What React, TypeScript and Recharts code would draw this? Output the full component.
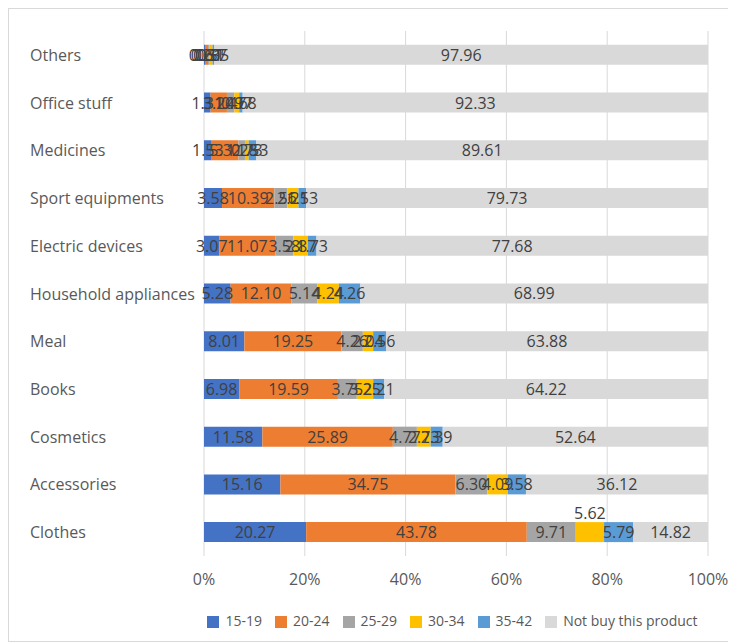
import { BarChart, Bar, XAxis, YAxis, CartesianGrid, Legend, LabelList } from 'recharts';

const products = [
  'Others',
  'Office stuff',
  'Medicines',
  'Sport equipments',
  'Electric devices',
  'Household appliances',
  'Meal',
  'Books',
  'Cosmetics',
  'Accessories',
  'Clothes',
];

const age15to19 = [0.2, 1.31, 1.53, 3.58, 3.07, 5.28, 8.01, 6.98, 11.58, 15.16, 20.27];
const age20to24 = [0.61, 3.24, 5.32, 10.39, 11.07, 12.1, 19.25, 19.59, 25.89, 34.75, 43.78];
const age25to29 = [0.31, 1.47, 1.28, 2.56, 3.58, 5.14, 4.26, 3.75, 4.77, 6.3, 9.71];
const age30to34 = [0.57, 0.97, 0.73, 2.21, 2.87, 4.24, 2.04, 3.25, 2.73, 4.09, 5.62];
const age35to42 = [0.35, 0.68, 1.53, 1.53, 1.73, 4.26, 2.56, 2.21, 2.39, 3.58, 5.79];
const notBuy = [97.96, 92.33, 89.61, 79.73, 77.68, 68.99, 63.88, 64.22, 52.64, 36.12, 14.82];

const xTicks = [0, 20, 40, 60, 80, 100];

const data = products.map((name, i) => ({
  name,
  a: age15to19[i],
  b: age20to24[i],
  c: age25to29[i],
  d: age30to34[i],
  e: age35to42[i],
  f: notBuy[i],
}));

const series = [
  { key: 'a', label: '15-19', color: '#4472C4' },
  { key: 'b', label: '20-24', color: '#ED7D31' },
  { key: 'c', label: '25-29', color: '#A5A5A5' },
  { key: 'd', label: '30-34', color: '#FFC000' },
  { key: 'e', label: '35-42', color: '#5B9BD5' },
  { key: 'f', label: 'Not buy this product', color: '#D9D9D9' },
];

const font = '"Open Sans", "Liberation Sans", sans-serif';

function CategoryTick({ y, payload }: any) {
  return (
    <text x={21} y={y} textAnchor="start" dominantBaseline="central" fill="#595959" fontSize={16} fontFamily={font}>
      {payload.value}
    </text>
  );
}

// Excel pushed the small yellow label of the last row above its bar
function makeLabel(key: string) {
  return (props: any) => {
    const { x, y, width, height, value, index } = props;
    const above = key === 'd' && index === products.length - 1;
    return (
      <text
        x={x + width / 2}
        y={above ? y - 9 : y + height / 2}
        textAnchor="middle"
        dominantBaseline="central"
        fill="#404040"
        fontSize={16}
        fontFamily={font}
      >
        {Number(value).toFixed(2)}
      </text>
    );
  };
}

export default function App() {
  return (
    <div style={{ width: 727, height: 632, border: '1px solid #D9D9D9', background: '#fff', fontFamily: font }}>
      <BarChart
        width={727}
        height={630}
        data={data}
        layout="vertical"
        barCategoryGap="29%"
        margin={{ top: 22, right: 28, left: 0, bottom: 9 }}
      >
        <CartesianGrid horizontal={false} stroke="#D9D9D9" />
        <XAxis
          type="number"
          domain={[0, 100]}
          ticks={xTicks}
          allowDataOverflow
          tickFormatter={(v: number) => `${v}%`}
          axisLine={false}
          tickLine={false}
          tick={{ fill: '#595959', fontSize: 16, fontFamily: font }}
          tickMargin={12}
          height={55}
        />
        <YAxis
          type="category"
          dataKey="name"
          width={195}
          axisLine={false}
          tickLine={false}
          tick={<CategoryTick />}
        />
        <Legend
          verticalAlign="bottom"
          iconType="square"
          iconSize={12}
          wrapperStyle={{ left: 170, width: 560, fontSize: 14, color: '#595959' }}
          formatter={(v: string) => <span style={{ color: '#595959', marginLeft: 2, marginRight: 3 }}>{v}</span>}
        />
        {series.map((s) => (
          <Bar key={s.key} dataKey={s.key} name={s.label} stackId="s" fill={s.color} isAnimationActive={false}>
            <LabelList dataKey={s.key} content={makeLabel(s.key)} />
          </Bar>
        ))}
      </BarChart>
    </div>
  );
}
